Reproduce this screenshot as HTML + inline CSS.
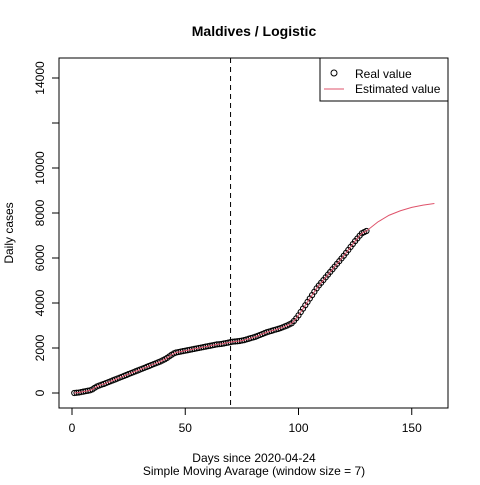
<!DOCTYPE html>
<html><head><meta charset="utf-8"><style>
body{margin:0;background:#fff}
text{font-family:"Liberation Sans",sans-serif;font-size:12px}
</style></head><body>
<svg id="c" width="480" height="480" xmlns="http://www.w3.org/2000/svg">
<text x="254" y="36" text-anchor="middle" font-weight="bold" style="font-size:14px">Maldives / Logistic</text>
<text x="254" y="462" text-anchor="middle">Days since 2020-04-24</text>
<text x="254" y="475" text-anchor="middle">Simple Moving Avarage (window size = 7)</text>
<text transform="translate(13,233) rotate(-90)" text-anchor="middle">Daily cases</text>
<rect x="59" y="58" width="389" height="350" fill="none" stroke="#000"/>
<g id="g"></g>
<g>
<rect x="320" y="58" width="128" height="43" fill="#fff" stroke="#000"/>
<circle cx="334" cy="73" r="3" fill="none" stroke="#000"/>
<text x="355" y="78">Real value</text>
<line x1="324" y1="89" x2="344" y2="89" stroke="#DF536B"/>
<text x="355" y="93">Estimated value</text>
</g>
</svg>
<script>
const realValues=[0,10,20,40,60,80,100,120,160,230,290,330,370,400,440,480,520,560,600,640,
680,720,760,800,840,880,920,960,1000,1040,1080,1120,1160,1200,1240,1280,1320,1360,1400,1450,
1500,1560,1630,1700,1760,1800,1820,1840,1860,1880,1900,1920,1940,1960,1980,2000,2020,2040,2060,2080,
2100,2120,2140,2160,2170,2180,2200,2220,2240,2260,2280,2290,2300,2310,2330,2350,2380,2410,2440,2470,
2500,2540,2580,2620,2660,2700,2730,2760,2790,2820,2850,2880,2920,2960,3000,3050,3100,3200,3320,3450,
3600,3750,3900,4050,4200,4350,4500,4650,4780,4900,5020,5140,5260,5380,5500,5620,5740,5860,5980,6100,
6230,6360,6490,6620,6750,6870,6990,7100,7150,7200];
const forecastDays=[135,140,145,150,155,160];
const forecastValues=[7600,7900,8100,8250,8350,8420];
const xTicks=[0,50,100,150];
const yTicks=[0,2000,4000,6000,8000,10000,12000,14000];
const yLabels=["0","2000","4000","6000","8000","10000","","14000"];
const cutoffDay=70;
const X=d=>72+d*2.265, Y=v=>393-v*0.0225;
const NS="http://www.w3.org/2000/svg",g=document.getElementById('g');
function mk(t,a){const e=document.createElementNS(NS,t);for(const k in a)e.setAttribute(k,a[k]);g.appendChild(e);return e;}
let e;
xTicks.forEach(t=>{e=mk('line',{x1:X(t),x2:X(t),y1:408,y2:415,stroke:'#000'});

e=mk('text',{x:X(t),y:432,'text-anchor':'middle'});e.textContent=t;
});
yTicks.forEach((t,i)=>{e=mk('line',{x1:52,x2:59,y1:Y(t),y2:Y(t),stroke:'#000'});

if(yLabels[i]){e=mk('text',{transform:`translate(44,${Y(t)}) rotate(-90)`,'text-anchor':'middle'});e.textContent=yLabels[i];
}});
e=mk('line',{x1:X(cutoffDay),x2:X(cutoffDay),y1:58,y2:408,stroke:'#000','stroke-dasharray':'5,4'});

realValues.forEach((v,i)=>{e=mk('circle',{cx:X(i+1),cy:Y(v),r:2.6,fill:'none',stroke:'#000'});
});
const pts=realValues.map((v,i)=>X(i+1)+','+Y(v)).concat(forecastDays.map((d,i)=>X(d)+','+Y(forecastValues[i])));
e=mk('polyline',{points:pts.join(' '),fill:'none',stroke:'#DF536B'});

</script>
</body></html>
